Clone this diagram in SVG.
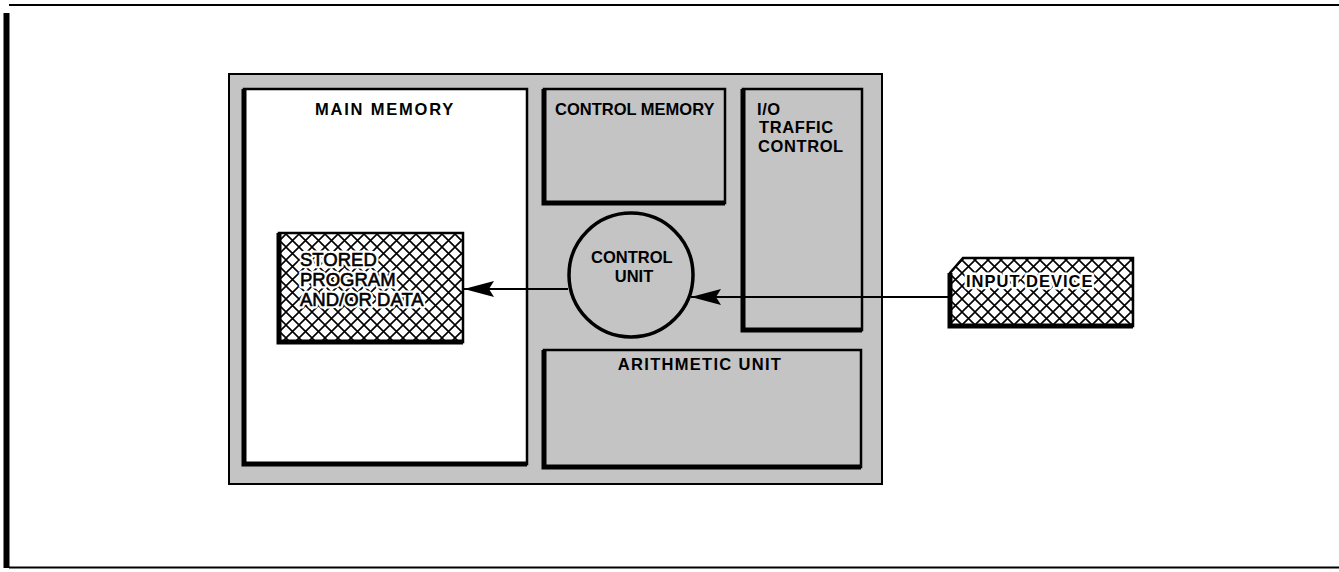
<svg xmlns="http://www.w3.org/2000/svg" width="1339" height="572" viewBox="0 0 1339 572">
  <defs>
    <pattern id="hatch" patternUnits="userSpaceOnUse" width="13" height="13">
      <rect width="13" height="13" fill="#ffffff"/>
      <path d="M0,0 L13,13 M13,0 L0,13" stroke="#000" stroke-width="1.6"/>
    </pattern>
    <marker id="arrow" markerUnits="userSpaceOnUse" markerWidth="32" markerHeight="18" refX="31" refY="9" orient="auto">
      <path d="M1,1 L31,9 L1,17 L6,9 z" fill="#000"/>
    </marker>
    <style>
      .box { stroke: #000; stroke-width: 2.5; }
      .shadow { fill: none; stroke: #000; stroke-width: 5; stroke-linejoin: miter; }
      .gray { fill: #c4c4c4; }
      .lbl { font-family: "Liberation Sans", Arial, sans-serif; font-weight: bold; font-size: 16.5px; fill: #000; }
      .lblr { font-family: "Liberation Sans", Arial, sans-serif; font-size: 18.5px; fill: #000; stroke: #000; stroke-width: 0.6px; }
      .halo { fill: #fff; stroke: #fff; stroke-width: 5px; stroke-linejoin: round; }
      .conn { stroke: #000; stroke-width: 2; fill: none; }
    </style>
  </defs>

  <rect width="1339" height="572" fill="#ffffff"/>

  <g id="frame">
    <line x1="9" y1="5" x2="1339" y2="5" stroke="#000" stroke-width="2"/>
    <line x1="6.5" y1="13" x2="6.5" y2="568" stroke="#000" stroke-width="6"/>
    <line x1="9" y1="567.5" x2="1339" y2="567.5" stroke="#000" stroke-width="2"/>
  </g>

  <g id="computer">
    <rect x="229" y="74" width="653" height="410" class="gray" stroke="#000" stroke-width="2"/>
  </g>

  <g id="main-memory">
    <rect x="244" y="89" width="283" height="375" fill="#fff" class="box"/>
    <path d="M244,89 L244,464 L527,464" class="shadow"/>
    <text x="385" y="115" class="lbl" text-anchor="middle" letter-spacing="1.8">MAIN MEMORY</text>
  </g>

  <g id="stored-program">
    <rect x="279" y="233" width="184" height="109" fill="url(#hatch)" class="box"/>
    <path d="M279,233 L279,342 L463,342" class="shadow"/>
    <text class="lblr halo" aria-hidden="true">
      <tspan x="300" y="266">STORED</tspan>
      <tspan x="300" y="286">PROGRAM</tspan>
      <tspan x="300" y="306">AND/OR DATA</tspan>
    </text>
    <text class="lblr">
      <tspan x="300" y="266">STORED</tspan>
      <tspan x="300" y="286">PROGRAM</tspan>
      <tspan x="300" y="306">AND/OR DATA</tspan>
    </text>
  </g>

  <g id="control-memory">
    <rect x="544" y="89" width="181" height="114" class="gray box"/>
    <path d="M544,89 L544,203 L725,203" class="shadow"/>
    <text x="555" y="115" class="lbl">CONTROL MEMORY</text>
  </g>

  <g id="io-traffic-control">
    <rect x="743" y="89" width="119" height="241" class="gray box"/>
    <path d="M743,89 L743,330 L862,330" class="shadow"/>
    <text class="lbl" letter-spacing="0.6">
      <tspan x="757" y="115">I/O</tspan>
      <tspan x="759" y="133">TRAFFIC</tspan>
      <tspan x="758" y="152">CONTROL</tspan>
    </text>
  </g>

  <g id="control-unit">
    <circle cx="631" cy="275" r="62" class="gray" stroke="#000" stroke-width="3.5"/>
    <text class="lbl" text-anchor="middle">
      <tspan x="634" y="263">CONTROL</tspan>
      <tspan x="634" y="282">UNIT</tspan>
    </text>
  </g>

  <g id="arithmetic-unit">
    <rect x="544" y="350" width="317" height="117" class="gray box"/>
    <path d="M544,350 L544,467 L861,467" class="shadow"/>
    <text x="700" y="370" class="lbl" text-anchor="middle" letter-spacing="1.3">ARITHMETIC UNIT</text>
  </g>

  <g id="input-device">
    <path d="M963,258 L1133,258 L1133,326 L950,326 L950,273 Z" fill="url(#hatch)" class="box"/>
    <path d="M950,273 L950,326 L1133,326" class="shadow"/>
    <text x="966" y="287" class="lbl halo" font-size="17.5px" letter-spacing="1" aria-hidden="true">INPUT DEVICE</text>
    <text x="966" y="287" class="lbl" font-size="17.5px" letter-spacing="1">INPUT DEVICE</text>
  </g>

  <g id="connectors">
    <line x1="568" y1="289" x2="464" y2="289" class="conn" marker-end="url(#arrow)"/>
    <line x1="949" y1="297" x2="691" y2="297" class="conn" marker-end="url(#arrow)"/>
  </g>
</svg>
